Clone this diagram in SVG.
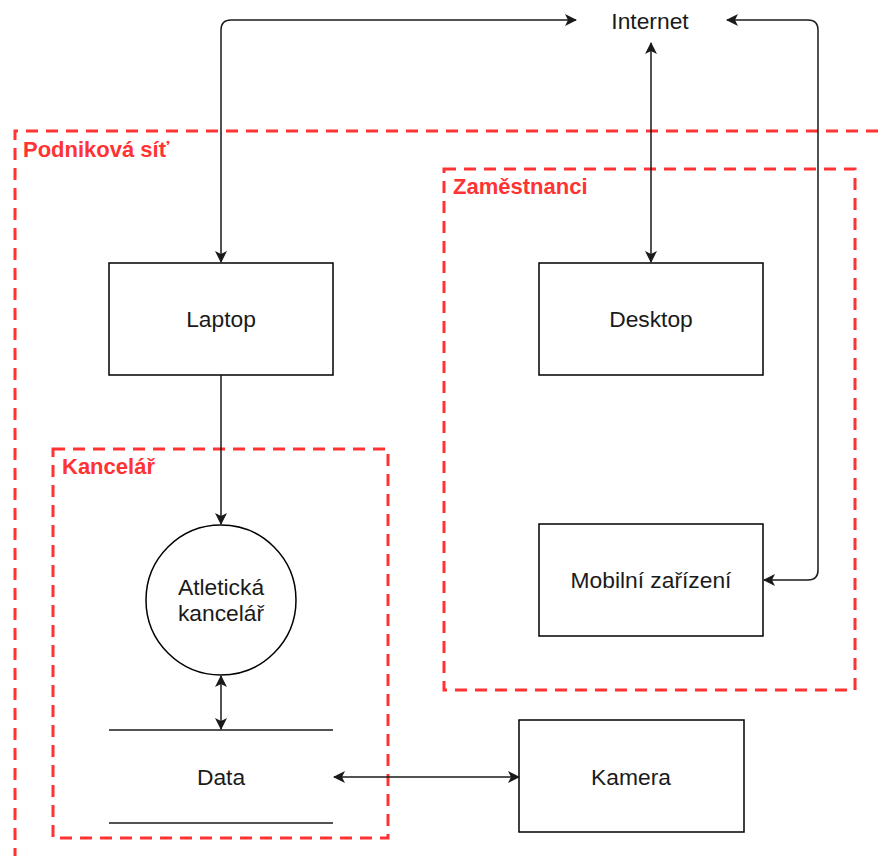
<svg xmlns="http://www.w3.org/2000/svg" width="883" height="856" viewBox="0 0 883 856">
  <style>
    .box { fill: #ffffff; stroke: #000000; stroke-width: 1.5; }
    .zone { fill: none; stroke: #ff3333; stroke-width: 3; stroke-dasharray: 12 8; }
    .zlabel { font-family: "Liberation Sans", Arial, sans-serif; font-size: 22px; font-weight: bold; fill: #ff3333; }
    .label { font-family: "Liberation Sans", Arial, sans-serif; font-size: 22.8px; fill: #1a1a1a; text-anchor: middle; }
    .edge { fill: none; stroke: #1a1a1a; stroke-width: 1.5; }
  </style>
  <defs>
    <marker id="arrow" viewBox="0 0 12 12" refX="11" refY="6" markerWidth="12" markerHeight="12" markerUnits="userSpaceOnUse" orient="auto-start-reverse">
      <path d="M0,0 L12,6 L0,12 L3,6 Z" fill="#1a1a1a"/>
    </marker>
  </defs>
  <rect width="883" height="856" fill="#ffffff"/>

  <!-- zones -->
  <g id="zone-podnikova-sit">
    <path class="zone" d="M15,860 L15,131 L890,131"/>
    <text class="zlabel" x="23" y="157">Podniková síť</text>
  </g>
  <g id="zone-zamestnanci">
    <rect class="zone" x="444" y="169" width="411" height="521"/>
    <text class="zlabel" x="453" y="194">Zaměstnanci</text>
  </g>
  <g id="zone-kancelar">
    <rect class="zone" x="53" y="449" width="335" height="389"/>
    <text class="zlabel" x="62" y="474">Kancelář</text>
  </g>

  <!-- nodes -->
  <g id="internet">
    <text class="label" x="650" y="29">Internet</text>
  </g>
  <g id="laptop">
    <rect class="box" x="109" y="263" width="224" height="112"/>
    <text class="label" x="221" y="327">Laptop</text>
  </g>
  <g id="desktop">
    <rect class="box" x="539" y="263" width="224" height="112"/>
    <text class="label" x="651" y="327">Desktop</text>
  </g>
  <g id="mobilni-zarizeni">
    <rect class="box" x="539" y="524" width="224" height="112"/>
    <text class="label" x="651" y="588">Mobilní zařízení</text>
  </g>
  <g id="atleticka-kancelar">
    <circle class="box" cx="221" cy="600" r="75"/>
    <text class="label" x="221" y="595">Atletická</text>
    <text class="label" x="221" y="621">kancelář</text>
  </g>
  <g id="data">
    <line class="edge" x1="109" y1="730" x2="333" y2="730"/>
    <line class="edge" x1="109" y1="823" x2="333" y2="823"/>
    <text class="label" x="221" y="785">Data</text>
  </g>
  <g id="kamera">
    <rect class="box" x="519" y="720" width="225" height="112"/>
    <text class="label" x="631" y="785">Kamera</text>
  </g>

  <!-- connectors -->
  <g id="connectors">
    <path class="edge" marker-start="url(#arrow)" marker-end="url(#arrow)" d="M221,262 L221,30 Q221,20 231,20 L576,20"/>
    <path class="edge" marker-start="url(#arrow)" marker-end="url(#arrow)" d="M651,43 L651,262"/>
    <path class="edge" marker-start="url(#arrow)" marker-end="url(#arrow)" d="M727,20 L808,20 Q818,20 818,30 L818,570 Q818,580 808,580 L764,580"/>
    <path class="edge" marker-end="url(#arrow)" d="M221,375 L221,524"/>
    <path class="edge" marker-start="url(#arrow)" marker-end="url(#arrow)" d="M221,676 L221,729"/>
    <path class="edge" marker-start="url(#arrow)" marker-end="url(#arrow)" d="M334,777 L519,777"/>
  </g>
</svg>
